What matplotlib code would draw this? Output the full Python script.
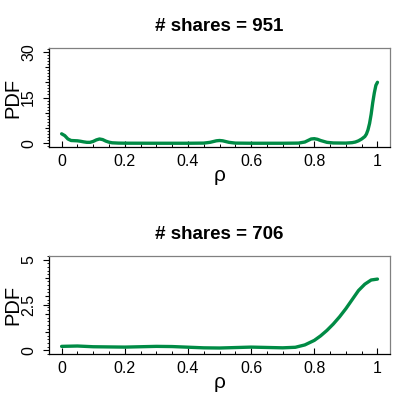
import numpy as np
import matplotlib.pyplot as plt
from matplotlib.ticker import FixedLocator, MultipleLocator

plt.rcParams['font.family'] = ['Liberation Sans', 'DejaVu Sans']

line_color = '#008B45'

# panel 1: # shares = 951
rho_951 = [0, 0.01, 0.02, 0.03, 0.04, 0.05, 0.06, 0.07, 0.08, 0.09, 0.10,
           0.11, 0.12, 0.13, 0.14, 0.15, 0.16, 0.18, 0.2, 0.3, 0.4, 0.45,
           0.47, 0.49, 0.5, 0.51, 0.53, 0.55, 0.6, 0.7, 0.75, 0.77, 0.78,
           0.79, 0.80, 0.81, 0.82, 0.84, 0.86, 0.9, 0.92, 0.93, 0.94, 0.95,
           0.96, 0.965, 0.97, 0.975, 0.98, 0.985, 0.99, 0.995, 1.0]
pdf_951 = [3.1, 2.5, 1.4, 0.9, 0.85, 0.8, 0.65, 0.45, 0.3, 0.3, 0.6,
           1.1, 1.4, 1.2, 0.7, 0.35, 0.15, 0.05, 0.02, 0.0, 0.0, 0.05,
           0.3, 0.8, 0.9, 0.8, 0.3, 0.05, 0.0, 0.0, 0.05, 0.4, 0.9,
           1.4, 1.5, 1.3, 0.9, 0.3, 0.1, 0.05, 0.2, 0.4, 0.8, 1.4,
           2.2, 3.0, 4.4, 6.5, 9.5, 13.3, 16.5, 19.0, 20.0]

# panel 2: # shares = 706
rho_706 = [0, 0.05, 0.1, 0.2, 0.3, 0.35, 0.45, 0.5, 0.6, 0.65, 0.7, 0.74,
           0.77, 0.8, 0.82, 0.84, 0.86, 0.88, 0.9, 0.92, 0.94, 0.96, 0.98, 1.0]
pdf_706 = [0.22, 0.24, 0.2, 0.18, 0.22, 0.21, 0.14, 0.13, 0.18, 0.16, 0.14, 0.17,
           0.3, 0.55, 0.8, 1.1, 1.45, 1.85, 2.3, 2.8, 3.3, 3.65, 3.88, 3.93]

panels = [
    dict(title='# shares = 951', x=rho_951, y=pdf_951, ymax=30,
         ylabels=[0, 15, 30], ymid=5, yminor=1, rect=[0.118, 0.646, 0.822, 0.238]),
    dict(title='# shares = 706', x=rho_706, y=pdf_706, ymax=5,
         ylabels=[0, 2.5, 5], ymid=1, yminor=0.2, rect=[0.118, 0.147, 0.822, 0.236]),
]

fig = plt.figure(figsize=(4.15, 4.15), dpi=100)

for p in panels:
    ax = fig.add_axes(p['rect'])
    ax.plot(p['x'], p['y'], color=line_color, lw=2.4, solid_capstyle='round')
    pad = 0.04 * p['ymax']
    ax.set_xlim(-0.04, 1.04)
    ax.set_ylim(-pad, p['ymax'] + pad)

    # x axis: ticks pointing in
    ax.xaxis.set_major_locator(FixedLocator([0, 0.2, 0.4, 0.6, 0.8, 1]))
    ax.xaxis.set_minor_locator(MultipleLocator(0.05))
    ax.set_xticklabels(['0', '0.2', '0.4', '0.6', '0.8', '1'])
    ax.tick_params(axis='x', which='major', direction='in', length=4.2, width=0.8,
                   labelsize=11.5, pad=5)
    ax.tick_params(axis='x', which='minor', direction='in', length=2.5, width=0.7)

    # y axis: long ticks at labels, medium and short ones between
    mids = list(np.arange(0, p['ymax'] + 1e-9, p['ymid']))
    majors = sorted(set([round(v, 3) for v in mids] + p['ylabels']))
    ax.yaxis.set_major_locator(FixedLocator(majors))
    ax.set_yticklabels([('%g' % v) if v in p['ylabels'] else '' for v in majors])
    ax.yaxis.set_minor_locator(MultipleLocator(p['yminor']))
    ax.tick_params(axis='y', which='major', direction='out', length=4.3, width=0.8,
                   labelsize=11.5, pad=5)
    ax.tick_params(axis='y', which='minor', direction='out', length=1.8, width=0.6)
    for v, t in zip(majors, ax.yaxis.get_major_ticks()):
        if v not in p['ylabels']:
            t.tick1line.set_markersize(2.6)
    for lab in ax.get_yticklabels():
        lab.set_rotation(90)
        lab.set_va('center')

    for side in ['top', 'right']:
        ax.spines[side].set_color('#808080')
    for side in ['left', 'bottom']:
        ax.spines[side].set_color('black')
    for s in ax.spines.values():
        s.set_linewidth(0.9)

    ax.set_title(p['title'], fontsize=13.5, fontweight='bold', pad=12)
    ax.set_xlabel('ρ', fontsize=15, labelpad=-2)
    ax.set_ylabel('PDF', fontsize=14.5, labelpad=-1)

fig.savefig('out.png', dpi=100)
